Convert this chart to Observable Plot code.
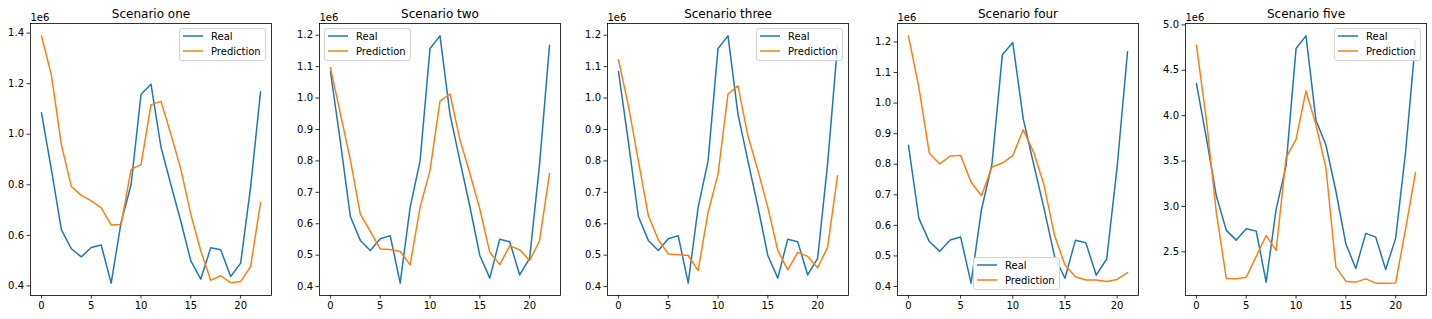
<!DOCTYPE html>
<html>
<head>
<meta charset="utf-8">
<script src="https://cdn.jsdelivr.net/npm/d3@7"></script>
<script src="https://cdn.jsdelivr.net/npm/@observablehq/plot@0.6"></script>
<style>
  html, body { margin: 0; padding: 0; background: #fff; }
  #root { position: relative; width: 1432px; height: 319px; overflow: hidden; font-family: "DejaVu Sans", sans-serif; }
  .panel { position: absolute; top: 0; }
  .legend { position: absolute; box-sizing: border-box; width: 87px; height: 33px; border: 1px solid #d4d4d4; border-radius: 3px; background: rgba(255,255,255,0.85); }
  .legend svg { position: absolute; left: 0; top: 0; }
</style>
</head>
<body>
<div id="root"></div>
<script>
// Values are in units of 1e6
const titles = ["Scenario one", "Scenario two", "Scenario three", "Scenario four", "Scenario five"];
const seriesNames = ["Real", "Prediction"];
const xTicks = [0, 5, 10, 15, 20];
const yTicksOne = [0.4, 0.6, 0.8, 1.0, 1.2, 1.4];
const yTicksMid = [0.4, 0.5, 0.6, 0.7, 0.8, 0.9, 1.0, 1.1, 1.2];
const yTicksFive = [2.5, 3.0, 3.5, 4.0, 4.5, 5.0];

const realOne = [1.085, 0.86, 0.623, 0.547, 0.515, 0.552, 0.562, 0.411, 0.652, 0.80, 1.158, 1.198, 0.949, 0.80, 0.655, 0.499, 0.427, 0.551, 0.543, 0.437, 0.49, 0.79, 1.168];
const predOne = [1.389, 1.233, 0.959, 0.793, 0.758, 0.736, 0.709, 0.641, 0.643, 0.861, 0.880, 1.117, 1.130, 1.0, 0.861, 0.683, 0.538, 0.422, 0.44, 0.413, 0.417, 0.476, 0.729];

const realTwo = [1.085, 0.86, 0.623, 0.547, 0.515, 0.552, 0.562, 0.411, 0.652, 0.80, 1.158, 1.198, 0.949, 0.80, 0.655, 0.499, 0.427, 0.551, 0.543, 0.437, 0.49, 0.79, 1.168];
const predTwo = [1.097, 0.95, 0.803, 0.631, 0.576, 0.52, 0.518, 0.512, 0.469, 0.652, 0.77, 0.99, 1.013, 0.868, 0.76, 0.647, 0.509, 0.47, 0.53, 0.517, 0.483, 0.546, 0.76];

const realThree = [1.085, 0.86, 0.623, 0.547, 0.515, 0.552, 0.562, 0.411, 0.652, 0.80, 1.158, 1.198, 0.949, 0.80, 0.655, 0.499, 0.427, 0.551, 0.543, 0.437, 0.49, 0.79, 1.168];
const predThree = [1.122, 0.975, 0.80, 0.626, 0.549, 0.504, 0.501, 0.499, 0.451, 0.636, 0.758, 1.013, 1.039, 0.88, 0.77, 0.652, 0.515, 0.453, 0.509, 0.496, 0.46, 0.525, 0.753];

const realFour = [0.862, 0.623, 0.547, 0.515, 0.552, 0.562, 0.411, 0.652, 0.80, 1.158, 1.198, 0.949, 0.80, 0.655, 0.499, 0.427, 0.551, 0.543, 0.437, 0.49, 0.79, 1.168];
const predFour = [1.22, 1.051, 0.836, 0.801, 0.827, 0.829, 0.742, 0.697, 0.791, 0.804, 0.828, 0.913, 0.839, 0.731, 0.568, 0.47, 0.432, 0.421, 0.421, 0.416, 0.423, 0.445];

const realFive = [4.353, 3.75, 3.114, 2.736, 2.629, 2.754, 2.728, 2.166, 2.968, 3.45, 4.739, 4.879, 3.95, 3.676, 3.17, 2.588, 2.317, 2.703, 2.662, 2.306, 2.648, 3.6, 4.83];
const predFive = [4.776, 3.95, 2.93, 2.206, 2.202, 2.22, 2.45, 2.68, 2.515, 3.537, 3.739, 4.272, 3.90, 3.426, 2.331, 2.177, 2.166, 2.202, 2.155, 2.155, 2.157, 2.75, 3.375];

const panels = [
  {title: titles[0], real: realOne, pred: predOne, yTicks: yTicksOne, left: 30, legend: "upper right"},
  {title: titles[1], real: realTwo, pred: predTwo, yTicks: yTicksMid, left: 319, legend: "upper left"},
  {title: titles[2], real: realThree, pred: predThree, yTicks: yTicksMid, left: 607, legend: "upper right"},
  {title: titles[3], real: realFour, pred: predFour, yTicks: yTicksMid, left: 897, legend: "lower center"},
  {title: titles[4], real: realFive, pred: predFive, yTicks: yTicksFive, left: 1185, legend: "upper right"}
];

const colors = ["#1f77b4", "#ff7f0e"];
const axW = 241, axTop = 23, axBottom = 24, H = 319;
const ML = 30, MR = 6;
const root = document.getElementById("root");

function padDomain(lo, hi) { const m = (hi - lo) * 0.05; return [lo - m, hi + m]; }

panels.forEach(p => {
  const rows = [];
  p.real.forEach((v, i) => rows.push({i, v, s: seriesNames[0]}));
  p.pred.forEach((v, i) => rows.push({i, v, s: seriesNames[1]}));
  const n = Math.max(p.real.length, p.pred.length);
  const all = p.real.concat(p.pred);
  const xd = padDomain(0, n - 1);
  const yd = padDomain(d3.min(all), d3.max(all));

  const chart = Plot.plot({
    width: axW + ML + MR, height: H,
    marginLeft: ML, marginRight: MR, marginTop: axTop, marginBottom: axBottom,
    style: {fontFamily: "DejaVu Sans, sans-serif", fontSize: "10px", color: "#000", background: "transparent", overflow: "visible"},
    x: {domain: xd},
    y: {domain: yd},
    marks: [
      Plot.axisX({ticks: xTicks, tickSize: 3.5, tickPadding: 3, tickFormat: d => String(d), label: null, fontSize: 10, strokeWidth: 0.8}),
      Plot.axisY({ticks: p.yTicks, tickSize: 3.5, tickPadding: 3, tickFormat: d => d.toFixed(1), label: null, fontSize: 10, strokeWidth: 0.8}),
      Plot.line(rows.filter(r => r.s === seriesNames[0]), {x: "i", y: "v", stroke: colors[0], strokeWidth: 1.5}),
      Plot.line(rows.filter(r => r.s === seriesNames[1]), {x: "i", y: "v", stroke: colors[1], strokeWidth: 1.5}),
      Plot.frame({stroke: "#000", strokeWidth: 0.8}),
      Plot.text([p.title], {frameAnchor: "top", dy: -6, lineAnchor: "bottom", fontSize: 12, fill: "#000"}),
      Plot.text(["1e6"], {frameAnchor: "top-left", dy: -3, lineAnchor: "bottom", textAnchor: "start", fontSize: 10, fill: "#000"})
    ]
  });
  const wrap = document.createElement("div");
  wrap.className = "panel";
  wrap.style.left = (p.left - ML) + "px";
  wrap.appendChild(chart);
  root.appendChild(wrap);

  // legend
  const lg = document.createElement("div");
  lg.className = "legend";
  let lx, ly;
  const lw = 87, lh = 33;
  if (p.legend === "upper right") { lx = p.left + axW - 5 - lw; ly = axTop + 5; }
  else if (p.legend === "upper left") { lx = p.left + 5; ly = axTop + 5; }
  else { lx = p.left + axW / 2 - lw / 2 - 1; ly = H - axBottom - 5 - lh; }
  lg.style.left = lx + "px";
  lg.style.top = ly + "px";
  const svg = d3.create("svg").attr("width", lw).attr("height", lh)
    .style("font-family", "DejaVu Sans, sans-serif").style("font-size", "10px");
  seriesNames.forEach((name, k) => {
    const yy = 7 + k * 15;
    svg.append("line").attr("x1", 3).attr("x2", 23).attr("y1", yy).attr("y2", yy)
      .attr("stroke", colors[k]).attr("stroke-width", 1.5);
    svg.append("text").attr("x", 31).attr("y", yy).attr("dy", "0.35em").attr("fill", "#000").text(name);
  });
  lg.appendChild(svg.node());
  root.appendChild(lg);
});
</script>
</body>
</html>
